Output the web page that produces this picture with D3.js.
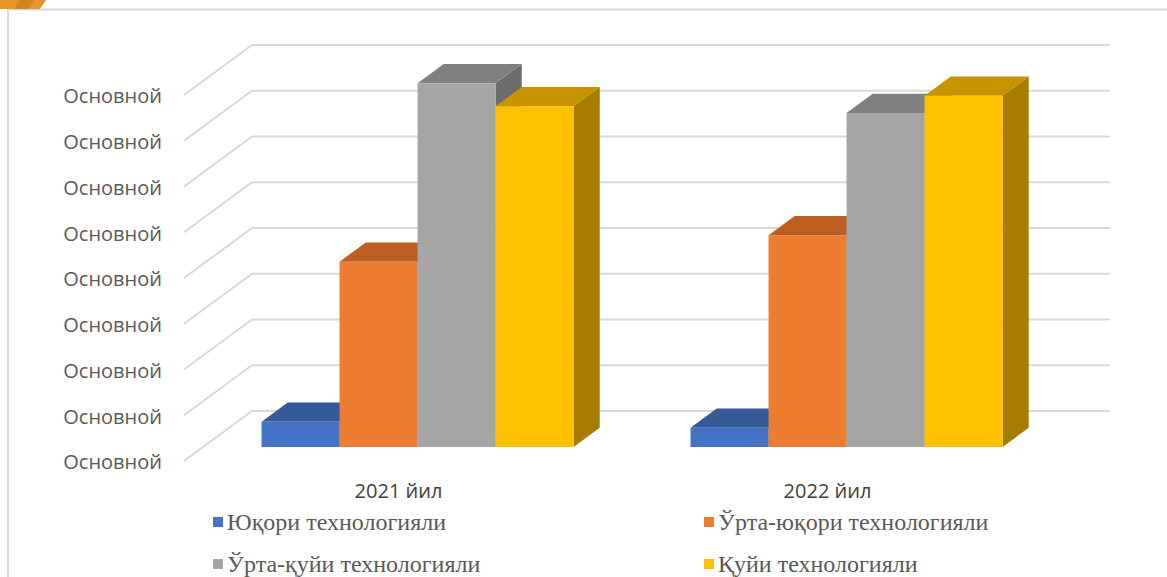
<!DOCTYPE html>
<html lang="uz">
<head>
<meta charset="utf-8">
<title>Технологиялар бўйича</title>
<style>
  body { margin: 0; background: #fff; }
  svg { display: block; }
  .tick-label { font-family: "Open Sans", Lato, sans-serif; font-size: 20px; fill: #595959; }
  .cat-label { font-family: "Open Sans", Lato, sans-serif; font-size: 20px; fill: #404040; }
  .legend text { font-family: "Liberation Serif", "Times New Roman", serif; font-size: 24px; fill: #595959; }
  .grid line { stroke: #d9d9d9; stroke-width: 2; }
</style>
</head>
<body>
<script src="https://cdnjs.cloudflare.com/ajax/libs/d3/7.8.5/d3.min.js"></script>
<script>
// data (axis labels are all "Основной")
var categories = ["2021 йил", "2022 йил"];
var seriesNames = ["Юқори технологияли", "Ўрта-юқори технологияли", "Ўрта-қуйи технологияли", "Қуйи технологияли"];
var values2021 = [0.55, 4.05, 7.95, 7.45];
var values2022 = [0.42, 4.63, 7.3, 7.68];
var tickValues = [0, 1, 2, 3, 4, 5, 6, 7, 8];
var tickLabels = ["Основной", "Основной", "Основной", "Основной", "Основной", "Основной", "Основной", "Основной", "Основной"];

var colors = ["#4472c4", "#ed7d31", "#a5a5a5", "#ffc000"];
var topColors = ["#355a98", "#bd5f22", "#808080", "#c69400"];
var sideColors = ["#2d4d84", "#a3511b", "#6b6b6b", "#a67d00"];

var W = 1167, H = 577;
var svg = d3.select("body").append("svg").attr("width", W).attr("height", H);

// frame
svg.append("rect").attr("x", 8).attr("y", 9.5).attr("width", W + 10).attr("height", H + 10)
  .attr("fill", "#fff").attr("stroke", "#d9d9d9").attr("stroke-width", 2);
// bit of the slide picture peeking above the frame
svg.append("path").attr("d", "M0,0 L46,0 L40,9 L0,9 Z").attr("fill", "#e8962a");
svg.append("path").attr("d", "M20,0 L34,0 L28,9 L14,9 Z").attr("fill", "#c9781a").attr("opacity", 0.6);

// 3D geometry: front floor left/right, depth offset to back wall
var x0 = 184, x1 = 1042, floorY = 461;
var depthX = 68, depthY = -50;
var barFront = 0.28, barBack = 0.665;

var y = d3.scaleLinear().domain([0, 8]).range([floorY, floorY - 8 * 45.75]);
var xCat = d3.scaleBand().domain(categories).range([x0, x1]);
var groupW = xCat.bandwidth() * 4 / 5.5;
var xSer = d3.scaleBand().domain(seriesNames).range([0, groupW]);

// gridlines: side wall diagonal + back wall
var grid = svg.append("g").attr("class", "grid");
tickValues.forEach(function(v) {
  grid.append("line")
    .attr("x1", x0).attr("y1", y(v))
    .attr("x2", x0 + depthX).attr("y2", y(v) + depthY);
  grid.append("line")
    .attr("x1", x0 + depthX).attr("y1", y(v) + depthY)
    .attr("x2", x1 + depthX).attr("y2", y(v) + depthY);
});

// value axis labels
svg.append("g").selectAll("text")
  .data(tickValues)
  .enter().append("text")
  .attr("class", "tick-label")
  .attr("x", 162)
  .attr("y", function(d) { return y(d) + 3; })
  .attr("text-anchor", "end")
  .attr("dominant-baseline", "middle")
  .text(function(d, i) { return tickLabels[i]; });

// bars
var fdx = barFront * depthX, fdy = barFront * depthY;
var bdx = barBack * depthX, bdy = barBack * depthY;
var allValues = [values2021, values2022];

categories.forEach(function(cat, ci) {
  var g = svg.append("g");
  var gx = xCat(cat) + (xCat.bandwidth() - groupW) / 2;
  allValues[ci].forEach(function(v, si) {
    var xl = gx + xSer(seriesNames[si]) + fdx;
    var xr = xl + xSer.bandwidth();
    var yb = y(0) + fdy;
    var yt = y(v) + fdy;
    var ddx = bdx - fdx, ddy = bdy - fdy;
    // side
    g.append("path")
      .attr("d", "M" + xr + "," + yt + "L" + (xr + ddx) + "," + (yt + ddy) +
        "L" + (xr + ddx) + "," + (yb + ddy) + "L" + xr + "," + yb + "Z")
      .attr("fill", sideColors[si]);
    // top
    g.append("path")
      .attr("d", "M" + xl + "," + yt + "L" + xr + "," + yt +
        "L" + (xr + ddx) + "," + (yt + ddy) + "L" + (xl + ddx) + "," + (yt + ddy) + "Z")
      .attr("fill", topColors[si]);
    // front
    g.append("rect")
      .attr("x", xl).attr("y", yt)
      .attr("width", xr - xl).attr("height", yb - yt)
      .attr("fill", colors[si]);
  });
});

// category labels
svg.append("g").selectAll("text")
  .data(categories)
  .enter().append("text")
  .attr("class", "cat-label")
  .attr("x", function(d) { return xCat(d) + xCat.bandwidth() / 2; })
  .attr("y", 493)
  .attr("text-anchor", "middle")
  .attr("dominant-baseline", "middle")
  .text(function(d) { return d; });

// legend 2x2
var legendX = [213, 704], legendY = [522, 564];
var legend = svg.append("g").attr("class", "legend");
seriesNames.forEach(function(name, i) {
  var lx = legendX[i % 2], ly = legendY[Math.floor(i / 2)];
  legend.append("rect").attr("x", lx).attr("y", ly - 5).attr("width", 10).attr("height", 10)
    .attr("fill", colors[i]);
  legend.append("text").attr("x", lx + 14).attr("y", ly + 8).text(name);
});
</script>
</body>
</html>
